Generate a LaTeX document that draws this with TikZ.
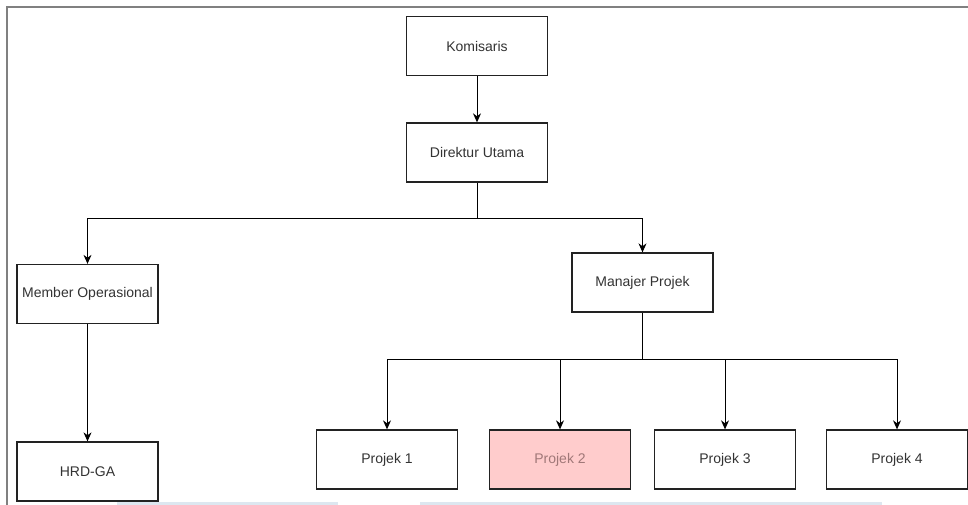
\documentclass[tikz,border=0pt]{standalone}
\usepackage{fontspec}
\setmainfont{Liberation Sans}
\usetikzlibrary{arrows.meta}
\definecolor{txt}{HTML}{333333}
\definecolor{edge}{HTML}{222222}
\definecolor{frame}{HTML}{808080}
\definecolor{pinkfill}{HTML}{FFCCCC}
\definecolor{pinktxt}{HTML}{A07878}
\definecolor{bluebar}{HTML}{DDE7F0}
\begin{document}
\begin{tikzpicture}[x=1pt,y=-1pt,
  box/.style={draw=edge,line width=1.3pt,fill=white,minimum width=141pt,minimum height=59pt,
    inner sep=0pt,text=txt,font=\fontsize{14}{16}\selectfont},
  conn/.style={draw=black,line width=1pt,-{Stealth[length=9pt,width=8pt]}},
  plain/.style={draw=black,line width=1pt}]
\useasboundingbox (0,0) rectangle (968,505);
\fill[white] (0,0) rectangle (968,505);
% frame remnants
\draw[frame,line width=2pt] (7,505) -- (7,7) -- (968,7);
\fill[bluebar] (117,502) rectangle (338,505);
\fill[bluebar] (420,502) rectangle (882,505);
% nodes
\node[box] (kom) at (477,46) {Komisaris};
\node[box] (dir) at (477,152.5) {Direktur Utama};
\node[box] (mo) at (87.5,294) {Member Operasional};
\node[box] (hrd) at (87.5,471.5) {HRD-GA};
\node[box] (mp) at (642.5,282.5) {Manajer Projek};
\node[box] (p1) at (387,459.5) {Projek 1};
\node[box,fill=pinkfill,text=pinktxt] (p2) at (560,459.5) {Projek 2};
\node[box] (p3) at (725,459.5) {Projek 3};
\node[box] (p4) at (897,459.5) {Projek 4};
% junctions
\coordinate (j1) at (477,218);
\coordinate (j2) at (642.5,359);
% connectors
\draw[conn] (kom) -- (dir);
\draw[plain] (dir.south) -- (j1);
\draw[conn] (j1) -| (mo.north);
\draw[conn] (j1) -| (mp.north);
\draw[conn] (mo) -- (hrd);
\draw[plain] (mp.south) -- (j2);
\draw[conn] (j2) -| (p1.north);
\draw[conn] (j2) -| (p2.north);
\draw[conn] (j2) -| (p3.north);
\draw[conn] (j2) -| (p4.north);
\end{tikzpicture}
\end{document}
